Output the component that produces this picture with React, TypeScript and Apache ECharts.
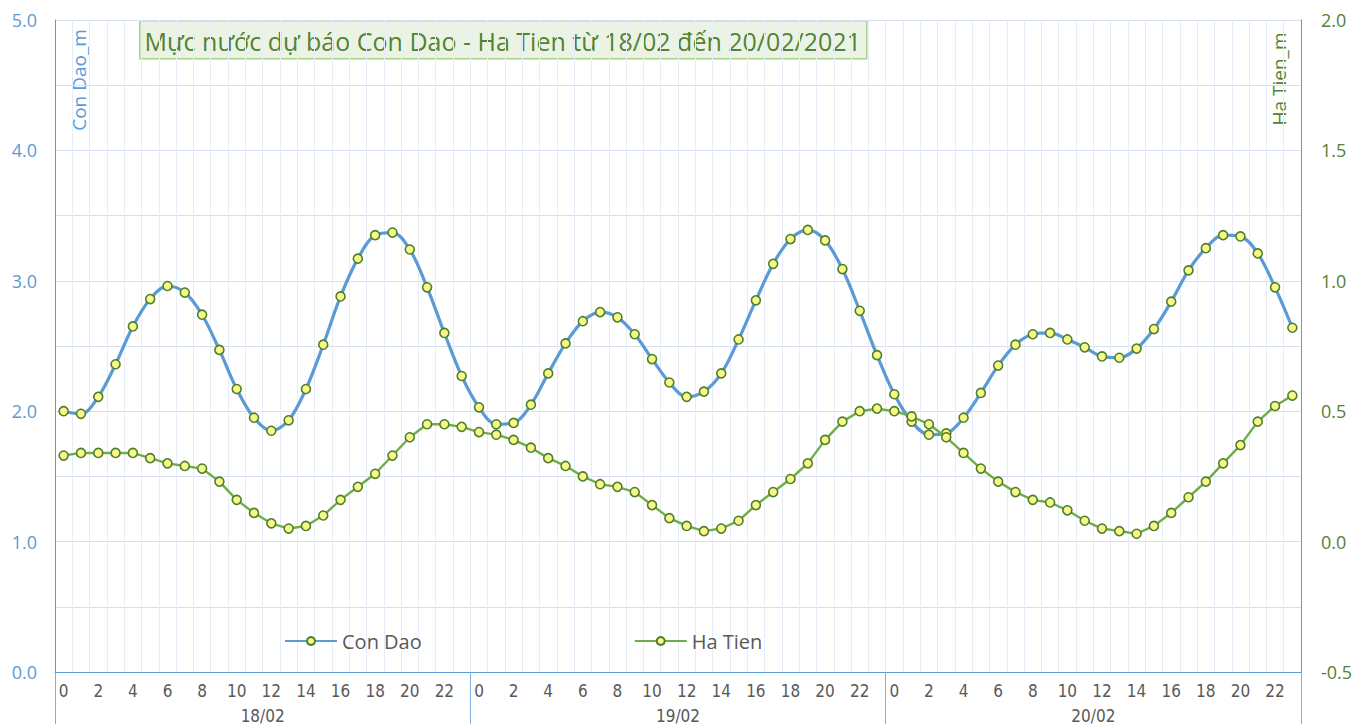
import React, { useEffect, useRef } from "react";
import * as echarts from "echarts";

const days = ["18/02", "19/02", "20/02"];
const hours = Array.from({ length: 24 }, (_, i) => String(i));

const conDao = [
  2.0, 1.98, 2.11, 2.36, 2.65, 2.86, 2.96, 2.91, 2.74, 2.47, 2.17, 1.95,
  1.85, 1.93, 2.17, 2.51, 2.88, 3.17, 3.35, 3.37, 3.24, 2.95, 2.6, 2.27,
  2.03, 1.9, 1.91, 2.05, 2.29, 2.52, 2.69, 2.76, 2.72, 2.59, 2.4, 2.22,
  2.11, 2.15, 2.29, 2.55, 2.85, 3.13, 3.32, 3.39, 3.31, 3.09, 2.77, 2.43,
  2.13, 1.92, 1.82, 1.83, 1.95, 2.14, 2.35, 2.51, 2.59, 2.6, 2.55, 2.49,
  2.42, 2.41, 2.48, 2.63, 2.84, 3.08, 3.25, 3.35, 3.34, 3.21, 2.95, 2.64,
];

const haTien = [
  0.33, 0.34, 0.34, 0.34, 0.34, 0.32, 0.3, 0.29, 0.28, 0.23, 0.16, 0.11,
  0.07, 0.05, 0.06, 0.1, 0.16, 0.21, 0.26, 0.33, 0.4, 0.45, 0.45, 0.44,
  0.42, 0.41, 0.39, 0.36, 0.32, 0.29, 0.25, 0.22, 0.21, 0.19, 0.14, 0.09,
  0.06, 0.04, 0.05, 0.08, 0.14, 0.19, 0.24, 0.3, 0.39, 0.46, 0.5, 0.51,
  0.5, 0.48, 0.45, 0.4, 0.34, 0.28, 0.23, 0.19, 0.16, 0.15, 0.12, 0.08,
  0.05, 0.04, 0.03, 0.06, 0.11, 0.17, 0.23, 0.3, 0.37, 0.46, 0.52, 0.56,
];

const leftTicks = { min: 0, max: 5, interval: 1 };
const rightTicks = { min: -0.5, max: 2, interval: 0.5 };

const titleText = "Mực nước dự báo Con Dao - Ha Tien từ 18/02 đến 20/02/2021";

export default function App() {
  const ref = useRef<HTMLDivElement>(null);
  useEffect(() => {
    document.body.style.margin = "0";
    const chart = echarts.init(ref.current!, null, { renderer: "svg" });
    const categories: string[] = [];
    days.forEach(() => hours.forEach((h) => categories.push(h)));
    const font = "'Open Sans', sans-serif";
    const narrow = "'Liberation Sans Narrow', 'DejaVu Sans Condensed', sans-serif";
    const marker = {
      color: "#F7F78A",
      borderColor: "#4F7F2A",
      borderWidth: 1.6,
    };
    chart.setOption({
      animation: false,
      backgroundColor: "#ffffff",
      grid: { left: 55, right: 66, top: 20, bottom: 52, containLabel: false },
      legend: {
        left: 279,
        top: 626,
        itemWidth: 52,
        itemHeight: 10,
        itemGap: 212,
        textStyle: { color: "#595959", fontSize: 20, fontFamily: font },
        data: ["Con Dao", "Ha Tien"],
      },
      xAxis: [
        {
          type: "category",
          data: categories,
          boundaryGap: true,
          axisLine: {
            show: true,
            onZero: false,
            lineStyle: { color: "#5B9BD5", width: 1 },
          },
          axisTick: { show: false },
          axisLabel: {
            interval: 1,
            color: "#595959",
            fontSize: 17,
            fontFamily: narrow,
            margin: 10,
          },
          splitLine: {
            show: true,
            interval: 0,
            lineStyle: { color: "#E6EDF8", width: 1 },
          },
        },
        {
          type: "category",
          data: days,
          position: "bottom",
          boundaryGap: true,
          axisLine: { show: false, onZero: false },
          axisTick: {
            show: true,
            length: 52,
            lineStyle: { color: "#7FAEDC", width: 1 },
          },
          axisLabel: {
            color: "#595959",
            fontSize: 17,
            fontFamily: narrow,
            margin: 35,
          },
          splitLine: { show: false },
        },
      ],
      yAxis: [
        {
          type: "value",
          ...leftTicks,
          position: "left",
          axisLine: { show: true, lineStyle: { color: "#5B9BD5", width: 1 } },
          axisTick: { show: false },
          axisLabel: {
            color: "#5B9BD5",
            fontSize: 18,
            fontFamily: font,
            margin: 18,
            formatter: (v: number) => v.toFixed(1),
          },
          splitLine: { show: true, lineStyle: { color: "#D5DFF0", width: 1 } },
          minorTick: { show: false, splitNumber: 2 },
          minorSplitLine: {
            show: true,
            lineStyle: { color: "#D5DFF0", width: 1 },
          },
        },
        {
          type: "value",
          ...rightTicks,
          position: "right",
          axisLine: { show: true, lineStyle: { color: "#5B9BD5", width: 1 } },
          axisTick: { show: false },
          axisLabel: {
            color: "#548235",
            fontSize: 18,
            fontFamily: font,
            margin: 20,
            formatter: (v: number) => v.toFixed(1),
          },
          splitLine: { show: false },
        },
      ],
      graphic: [
        {
          type: "group",
          left: 139,
          top: 20,
          children: [
            {
              type: "rect",
              shape: { x: 0, y: 0, width: 727, height: 38 },
              style: { fill: "#EBF4E4", stroke: "#A9D18E", lineWidth: 1.5 },
            },
            {
              type: "text",
              x: 363,
              y: 20,
              style: {
                text: titleText,
                fill: "#548235",
                fontSize: 25,
                fontFamily: font,
                align: "center",
                verticalAlign: "middle",
              },
            },
          ],
        },
        {
          type: "text",
          x: 79,
          y: 80,
          rotation: Math.PI / 2,
          style: {
            text: "Con Dao_m",
            fill: "#5B9BD5",
            fontSize: 19,
            fontFamily: font,
            align: "center",
            verticalAlign: "middle",
          },
        },
        {
          type: "text",
          x: 1279,
          y: 79,
          rotation: Math.PI / 2,
          style: {
            text: "Ha Tien_m",
            fill: "#548235",
            fontSize: 19,
            fontFamily: font,
            align: "center",
            verticalAlign: "middle",
          },
        },
      ],
      series: [
        {
          name: "Con Dao",
          type: "line",
          xAxisIndex: 0,
          yAxisIndex: 0,
          data: conDao,
          smooth: 0.35,
          symbol: "circle",
          symbolSize: 9,
          lineStyle: { color: "#5B9BD5", width: 3.2 },
          itemStyle: marker,
          z: 3,
        },
        {
          name: "Ha Tien",
          type: "line",
          xAxisIndex: 0,
          yAxisIndex: 1,
          data: haTien,
          smooth: false,
          symbol: "circle",
          symbolSize: 9,
          lineStyle: { color: "#70AD47", width: 2.4 },
          itemStyle: marker,
          z: 4,
        },
      ],
    });
    return () => chart.dispose();
  }, []);
  return <div ref={ref} style={{ width: 1367, height: 724 }} />;
}
